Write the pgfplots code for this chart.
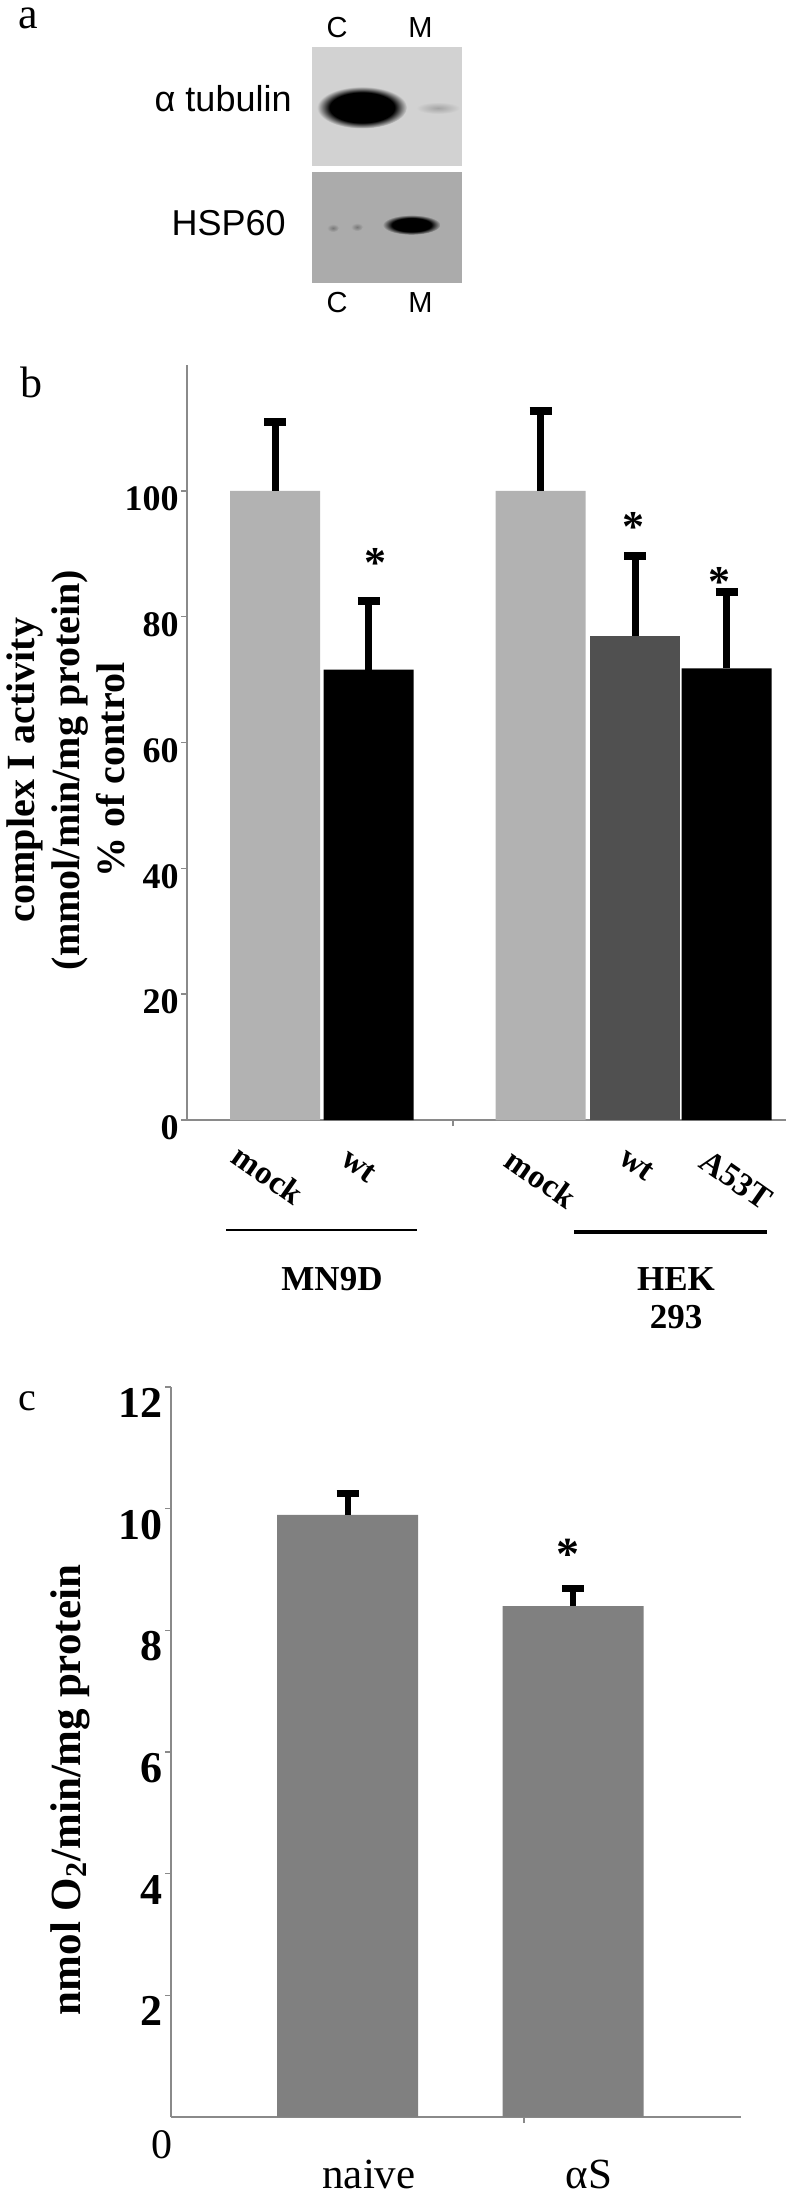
\documentclass[border=0pt]{standalone}
\usepackage{fontspec}
\setmainfont{Liberation Serif}
\newfontfamily\arialf{Liberation Sans}
\usepackage{pgfplots}
\pgfplotsset{compat=1.18}
\definecolor{lightbar}{HTML}{B2B2B2}
\definecolor{darkbar}{HTML}{505050}
\definecolor{cbar}{HTML}{808080}
\definecolor{axgray}{HTML}{8A8A8A}
\definecolor{blotA}{HTML}{D2D2D2}
\definecolor{blotB}{HTML}{ABABAB}
\pgfdeclareradialshading{blotshadeA}{\pgfpoint{0bp}{0bp}}{color(0bp)=(black); color(18bp)=(black); color(25bp)=(blotA); color(50bp)=(blotA)}
\pgfdeclareradialshading{blotshadeB}{\pgfpoint{0bp}{0bp}}{color(0bp)=(black); color(17bp)=(black); color(25bp)=(blotB); color(50bp)=(blotB)}
\pgfdeclareradialshading{smudgeA}{\pgfpoint{0bp}{0bp}}{color(0bp)=(black!22!blotA); color(25bp)=(blotA); color(50bp)=(blotA)}
\pgfdeclareradialshading{smudgeB}{\pgfpoint{0bp}{0bp}}{color(0bp)=(black!30!blotB); color(25bp)=(blotB); color(50bp)=(blotB)}

\pgfplotstableread{
x    y    err
275  100  11.0
540.5 100 12.7
}\mockdata
\pgfplotstableread{
x    y    err
368.5 71.6 10.9
726.5 71.8 12.1
}\blackdata
\pgfplotstableread{
x    y    err
635  77.0 12.7
}\hekwtdata
\pgfplotstableread{
x     y    err
347.5 9.9  0.35
573   8.4  0.28
}\cdata

\begin{document}
\begin{tikzpicture}[x=1pt,y=1pt]
\path[use as bounding box] (0pt,0pt) rectangle (400pt,-1097pt);

% ---------------- panel a ----------------
\node[anchor=base west, inner sep=0, font=\fontsize{22}{22}\selectfont] at (9pt,-14.5pt) {a};
\begin{scope}[every node/.style={anchor=base, inner sep=0, font=\arialf\fontsize{14.5}{14.5}\selectfont}]
\node at (168.5pt,-19pt) {C};
\node at (210.25pt,-19pt) {M};
\node at (168.5pt,-156pt) {C};
\node at (210.25pt,-156pt) {M};
\end{scope}
\node[anchor=base east, inner sep=0, font=\arialf\fontsize{18}{18}\selectfont] at (146pt,-56pt) {α tubulin};
\node[anchor=base east, inner sep=0, font=\arialf\fontsize{18}{18}\selectfont] at (143pt,-117.5pt) {HSP60};
\fill[blotA] (156pt,-23.7pt) rectangle (231pt,-83pt);
\fill[blotB] (156pt,-86pt) rectangle (231pt,-141.4pt);
\shade[shading=blotshadeA] (181pt,-53.75pt) ellipse [x radius=22.5pt, y radius=10.5pt];
\shade[shading=smudgeA] (219pt,-54pt) ellipse [x radius=11pt, y radius=3pt];
\shade[shading=blotshadeB] (205.75pt,-112.4pt) ellipse [x radius=14.5pt, y radius=5pt];
\shade[shading=smudgeB] (166.5pt,-114pt) ellipse [x radius=3pt, y radius=2pt];
\shade[shading=smudgeB] (178.5pt,-113.5pt) ellipse [x radius=3pt, y radius=2pt];

% ---------------- panel b ----------------
\node[anchor=base west, inner sep=0, font=\fontsize{22}{22}\selectfont] at (10pt,-198.5pt) {b};
\node[rotate=90, align=center, font=\bfseries\fontsize{20}{22.5}\selectfont] at (33pt,-385pt)
  {complex I activity\\(mmol/min/mg protein)\\\% of control};
\begin{axis}[
  at={(93.5pt,-560pt)}, anchor=south west,
  scale only axis, width=299.5pt, height=377.5pt,
  xmin=187, xmax=786, ymin=0, ymax=120,
  axis x line*=bottom, axis y line*=left,
  axis line style={draw=axgray, line width=0.7pt, -},
  tick style={draw=axgray, line width=0.7pt},
  tick align=outside, major tick length=3pt,
  ytick={0,20,40,60,80,100},
  yticklabel style={font=\bfseries\fontsize{18}{18}\selectfont, inner sep=1pt, yshift=-4pt},
  /pgf/number format/assume math mode=true,
  xtick={453}, xticklabels={},
  clip=false,
  error bars/error mark=|,
  error bars/error bar style={line width=3.5pt, black},
  error bars/error mark options={line width=4pt, mark size=5.5pt, black},
]
\addplot[ybar, bar width=90, bar shift=0pt, fill=lightbar, draw=none,
  error bars/.cd, y dir=plus, y explicit] table[x=x, y=y, y error=err] {\mockdata};
\addplot[ybar, bar width=90, bar shift=0pt, fill=black, draw=none,
  error bars/.cd, y dir=plus, y explicit] table[x=x, y=y, y error=err] {\blackdata};
\addplot[ybar, bar width=90, bar shift=0pt, fill=darkbar, draw=none,
  error bars/.cd, y dir=plus, y explicit] table[x=x, y=y, y error=err] {\hekwtdata};
\begin{scope}[every node/.style={font=\bfseries\fontsize{22}{22}\selectfont, inner sep=0}]
\node at (axis cs:375,88.5) {*};
\node at (axis cs:633,94.3) {*};
\node at (axis cs:719,85.5) {*};
\end{scope}
\begin{scope}[every node/.style={font=\bfseries\fontsize{16.5}{16.5}\selectfont, inner sep=0, rotate=-35, anchor=north west}]
\node at (axis cs:243,-3.6) {mock};
\node at (axis cs:350,-4.4) {wt};
\node at (axis cs:516,-4.2) {mock};
\node at (axis cs:628,-4.2) {wt};
\node at (axis cs:710,-4.4) {A53T};
\end{scope}
\end{axis}
\draw[line width=1.2pt] (113pt,-615pt) -- (208.5pt,-615pt);
\draw[line width=2pt] (287pt,-616pt) -- (383.5pt,-616pt);
\node[anchor=base, inner sep=0, font=\bfseries\fontsize{17.5}{17.5}\selectfont] at (166pt,-645pt) {MN9D};
\node[anchor=base, inner sep=0, font=\bfseries\fontsize{17.5}{17.5}\selectfont] at (338pt,-645pt) {HEK};
\node[anchor=base, inner sep=0, font=\bfseries\fontsize{17.5}{17.5}\selectfont] at (338pt,-664pt) {293};

% ---------------- panel c ----------------
\node[anchor=base west, inner sep=0, font=\fontsize{20}{20}\selectfont] at (9pt,-705pt) {c};
\node[rotate=90, font=\bfseries\fontsize{21.5}{21.5}\selectfont] at (35pt,-895pt)
  {nmol O\textsubscript{2}/min/mg protein};
\begin{axis}[
  at={(85.5pt,-1058.5pt)}, anchor=south west,
  scale only axis, width=285pt, height=365pt,
  xmin=171, xmax=741, ymin=0, ymax=12,
  axis x line*=bottom, axis y line*=left,
  axis line style={draw=axgray, line width=0.7pt, -},
  tick style={draw=axgray, line width=0.7pt},
  tick align=outside, major tick length=3pt,
  ytick={2,4,6,8,10,12},
  yticklabel style={font=\bfseries\fontsize{22}{22}\selectfont, inner sep=1pt, yshift=-8pt},
  /pgf/number format/assume math mode=true,
  xtick={524}, xticklabels={},
  clip=false,
  error bars/error mark=|,
  error bars/error bar style={line width=3pt, black},
  error bars/error mark options={line width=3.5pt, mark size=5.5pt, black},
]
\addplot[ybar, bar width=141, bar shift=0pt, fill=cbar, draw=none,
  error bars/.cd, y dir=plus, y explicit] table[x=x, y=y, y error=err] {\cdata};
\node[font=\bfseries\fontsize{23}{23}\selectfont, inner sep=0] at (axis cs:568,9.25) {*};
\node[font=\fontsize{21}{21}\selectfont, inner sep=0] at (axis cs:162,-0.46) {0};
\node[anchor=base, inner sep=0, font=\fontsize{21.5}{21.5}\selectfont] at (axis cs:369,-1.167) {naive};
\node[anchor=base, inner sep=0, font=\fontsize{21.5}{21.5}\selectfont] at (axis cs:589,-1.167) {αS};
\end{axis}
\end{tikzpicture}
\end{document}
